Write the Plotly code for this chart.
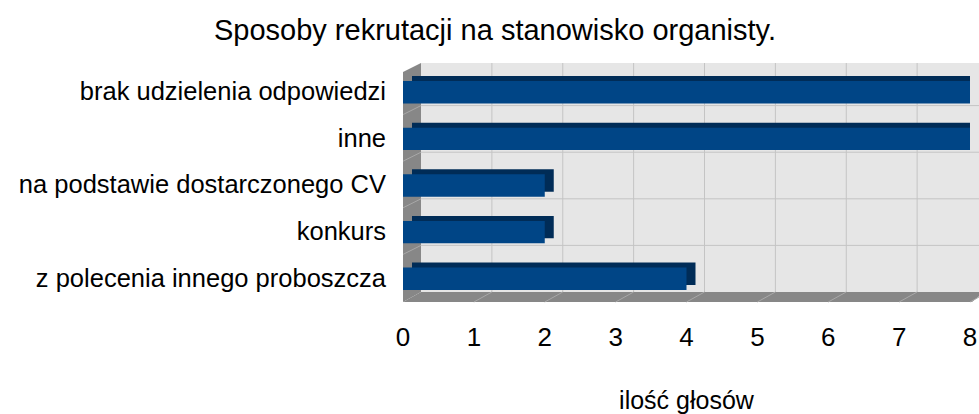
import plotly.graph_objects as go

# ---- data ----
categories = [
    "z polecenia innego proboszcza",
    "konkurs",
    "na podstawie dostarczonego CV",
    "inne",
    "brak udzielenia odpowiedzi",
]
values = [4, 2, 2, 8, 8]
x_ticks = [0, 1, 2, 3, 4, 5, 6, 7, 8]
title_text = "Sposoby rekrutacji na stanowisko organisty."
x_title = "ilość głosów"

# ---- geometry (pixels) ----
FIG_W, FIG_H = 979, 414
L, R_EDGE, T, B_EDGE = 403, 970, 68, 301
W = R_EDGE - L
H = B_EDGE - T
XMAX = 8
DX_PX, DY_PX = 18, 9          # depth shift of the back wall
BAR_DX_PX, BAR_DY_PX = 9, 5   # depth of the 3D bars

def px(xp):
    return (xp - L) / W

def py(yp):
    return (B_EDGE - yp) / H

FONT = "Liberation Sans, Arial, sans-serif"
WALL = "#e6e6e6"
SIDE = "#878787"
GRID = "#c4c4c4"
DIAG = "#a8a8a8"
BLUE = "#004586"
DARK = "#002c57"

shapes = []
# back wall
shapes.append(dict(type="rect", xref="x domain", yref="y domain",
                   x0=px(L + DX_PX), x1=px(FIG_W + 5), y0=py(B_EDGE - DY_PX), y1=py(T - 5),
                   fillcolor=WALL, line=dict(width=0), layer="below"))
# left wall
shapes.append(dict(type="path", xref="x domain", yref="y domain",
                   path=f"M {px(L)} {py(T+4)} L {px(L+DX_PX)} {py(T-5)} L {px(L+DX_PX)} {py(B_EDGE-DY_PX)} L {px(L)} {py(B_EDGE+1)} Z",
                   fillcolor=SIDE, line=dict(width=0), layer="below"))
# floor
shapes.append(dict(type="path", xref="x domain", yref="y domain",
                   path=f"M {px(L)} {py(B_EDGE+1)} L {px(L+DX_PX)} {py(B_EDGE-DY_PX)} L {px(FIG_W+5)} {py(B_EDGE-DY_PX)} L {px(FIG_W-7)} {py(B_EDGE+1)} Z",
                   fillcolor=SIDE, line=dict(width=0), layer="below"))
# vertical grid on back wall + floor diagonals
for k in x_ticks:
    xd = k / XMAX
    xb = xd + DX_PX / W
    if k > 0 and xb <= px(FIG_W):
        shapes.append(dict(type="line", xref="x domain", yref="y domain",
                           x0=xb, x1=xb, y0=py(B_EDGE - DY_PX), y1=py(T - 5),
                           line=dict(color=GRID, width=1), layer="below"))
    if k > 0:
        shapes.append(dict(type="line", xref="x domain", yref="y domain",
                           x0=xd, x1=xb, y0=py(B_EDGE + 1), y1=py(B_EDGE - DY_PX),
                           line=dict(color=DIAG, width=1), layer="below"))
# horizontal grid on back wall + left wall diagonals
n = len(categories)
for i in range(1, n):
    yd = i / n
    yb = yd + DY_PX / H
    shapes.append(dict(type="line", xref="x domain", yref="y domain",
                       x0=px(L + DX_PX), x1=px(FIG_W + 5), y0=yb, y1=yb,
                       line=dict(color=GRID, width=1), layer="below"))
    shapes.append(dict(type="line", xref="x domain", yref="y domain",
                       x0=0, x1=px(L + DX_PX), y0=yd, y1=yb,
                       line=dict(color=DIAG, width=1), layer="below"))

unit_x = XMAX / W
unit_y = n / H
BW = 0.48

fig = go.Figure()
# back/side faces of the 3D bars
fig.add_trace(go.Bar(
    y=categories, x=values, base=BAR_DX_PX * unit_x, orientation="h",
    width=BW, offset=-BW / 2 + (BAR_DY_PX - 1) * unit_y,
    marker=dict(color=DARK, line=dict(width=0)),
    cliponaxis=False, hoverinfo="skip", showlegend=False))
# front faces
fig.add_trace(go.Bar(
    y=categories, x=values, orientation="h",
    width=BW, offset=-BW / 2 - 1 * unit_y,
    marker=dict(color=BLUE, line=dict(width=0)),
    cliponaxis=False, showlegend=False))

fig.update_layout(
    width=FIG_W, height=FIG_H, autosize=False,
    margin=dict(l=L, r=FIG_W - R_EDGE, t=T, b=FIG_H - B_EDGE, pad=0),
    paper_bgcolor="white", plot_bgcolor="rgba(0,0,0,0)",
    barmode="overlay",
    font=dict(family=FONT, size=25.5, color="#000000"),
    title=dict(text=title_text, x=0.5056, xref="container", y=1 - 30 / FIG_H,
               yref="container", xanchor="center", yanchor="middle",
               font=dict(size=29, family=FONT, color="#000000")),
    shapes=shapes,
    showlegend=False,
)
fig.update_xaxes(range=[0, XMAX], tickvals=x_ticks, ticktext=[str(t) for t in x_ticks],
                 showgrid=False, zeroline=False, showline=False, automargin=False,
                 ticks="", ticklabelstandoff=18, tickfont=dict(size=26),
                 title=dict(text=x_title, standoff=45, font=dict(size=25)))
fig.update_yaxes(categoryorder="array", categoryarray=categories, automargin=False,
                 range=[-0.5, n - 0.5], showgrid=False, zeroline=False, showline=False,
                 ticks="", ticklabelstandoff=16)

fig.write_html("out.html",
               config={"displayModeBar": False, "responsive": False},
               post_script="document.body.style.margin='0';document.body.style.overflow='hidden';")
